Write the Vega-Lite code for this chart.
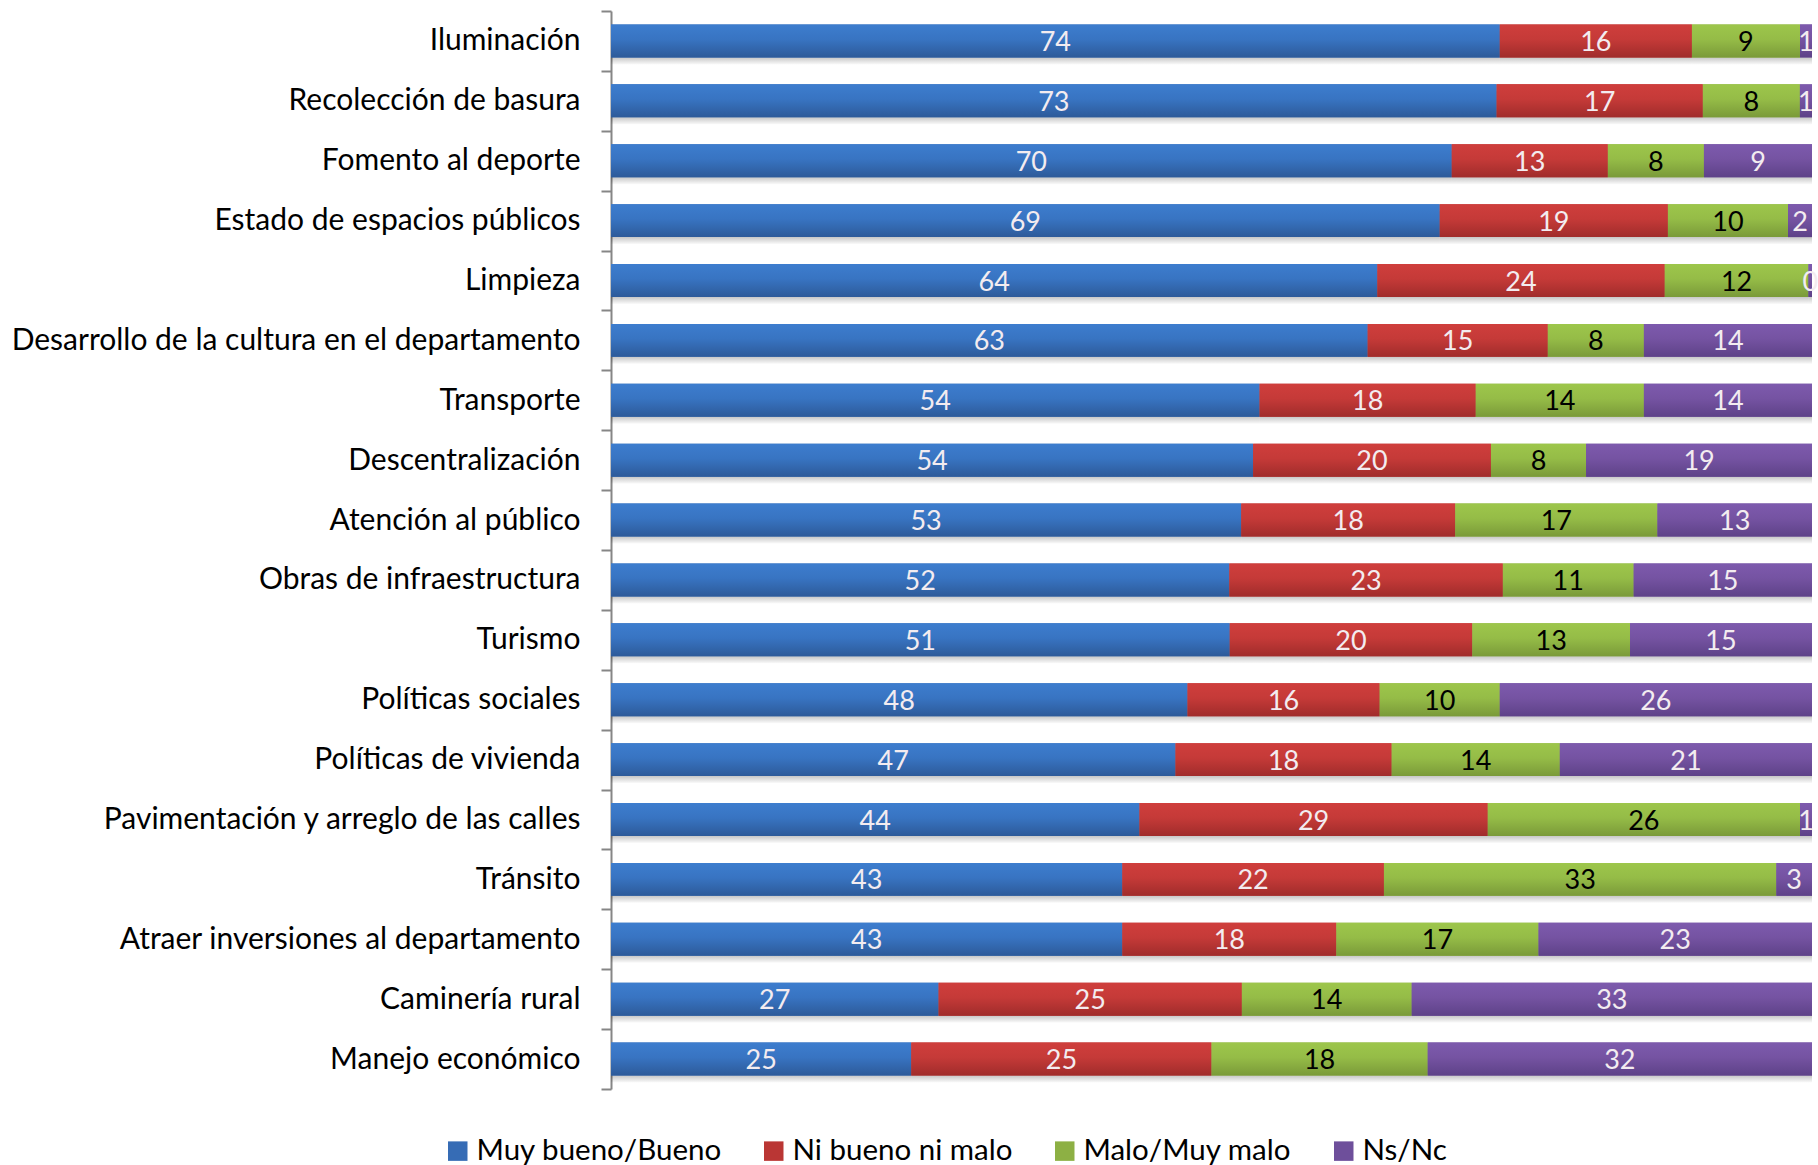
{
  "$schema": "https://vega.github.io/schema/vega-lite/v6.json",
  "width": 1201,
  "height": 1078,
  "autosize": "none",
  "padding": {"left": 611, "top": 11, "right": 6, "bottom": 76},
  "background": "white",
  "config": {"view": {"stroke": null}, "font": "Lato"},
  "data": {
    "values": [
      {"servicio": "Iluminación", "resp": "Muy bueno/Bueno", "pct": 74},
      {"servicio": "Iluminación", "resp": "Ni bueno ni malo", "pct": 16},
      {"servicio": "Iluminación", "resp": "Malo/Muy malo", "pct": 9},
      {"servicio": "Iluminación", "resp": "Ns/Nc", "pct": 1},
      {"servicio": "Recolección de basura", "resp": "Muy bueno/Bueno", "pct": 73},
      {"servicio": "Recolección de basura", "resp": "Ni bueno ni malo", "pct": 17},
      {"servicio": "Recolección de basura", "resp": "Malo/Muy malo", "pct": 8},
      {"servicio": "Recolección de basura", "resp": "Ns/Nc", "pct": 1},
      {"servicio": "Fomento al deporte", "resp": "Muy bueno/Bueno", "pct": 70},
      {"servicio": "Fomento al deporte", "resp": "Ni bueno ni malo", "pct": 13},
      {"servicio": "Fomento al deporte", "resp": "Malo/Muy malo", "pct": 8},
      {"servicio": "Fomento al deporte", "resp": "Ns/Nc", "pct": 9},
      {"servicio": "Estado de espacios públicos", "resp": "Muy bueno/Bueno", "pct": 69},
      {"servicio": "Estado de espacios públicos", "resp": "Ni bueno ni malo", "pct": 19},
      {"servicio": "Estado de espacios públicos", "resp": "Malo/Muy malo", "pct": 10},
      {"servicio": "Estado de espacios públicos", "resp": "Ns/Nc", "pct": 2},
      {"servicio": "Limpieza", "resp": "Muy bueno/Bueno", "pct": 64},
      {"servicio": "Limpieza", "resp": "Ni bueno ni malo", "pct": 24},
      {"servicio": "Limpieza", "resp": "Malo/Muy malo", "pct": 12},
      {"servicio": "Limpieza", "resp": "Ns/Nc", "pct": 0.3},
      {"servicio": "Desarrollo de la cultura en el departamento", "resp": "Muy bueno/Bueno", "pct": 63},
      {"servicio": "Desarrollo de la cultura en el departamento", "resp": "Ni bueno ni malo", "pct": 15},
      {"servicio": "Desarrollo de la cultura en el departamento", "resp": "Malo/Muy malo", "pct": 8},
      {"servicio": "Desarrollo de la cultura en el departamento", "resp": "Ns/Nc", "pct": 14},
      {"servicio": "Transporte", "resp": "Muy bueno/Bueno", "pct": 54},
      {"servicio": "Transporte", "resp": "Ni bueno ni malo", "pct": 18},
      {"servicio": "Transporte", "resp": "Malo/Muy malo", "pct": 14},
      {"servicio": "Transporte", "resp": "Ns/Nc", "pct": 14},
      {"servicio": "Descentralización", "resp": "Muy bueno/Bueno", "pct": 54},
      {"servicio": "Descentralización", "resp": "Ni bueno ni malo", "pct": 20},
      {"servicio": "Descentralización", "resp": "Malo/Muy malo", "pct": 8},
      {"servicio": "Descentralización", "resp": "Ns/Nc", "pct": 19},
      {"servicio": "Atención al público", "resp": "Muy bueno/Bueno", "pct": 53},
      {"servicio": "Atención al público", "resp": "Ni bueno ni malo", "pct": 18},
      {"servicio": "Atención al público", "resp": "Malo/Muy malo", "pct": 17},
      {"servicio": "Atención al público", "resp": "Ns/Nc", "pct": 13},
      {"servicio": "Obras de infraestructura", "resp": "Muy bueno/Bueno", "pct": 52},
      {"servicio": "Obras de infraestructura", "resp": "Ni bueno ni malo", "pct": 23},
      {"servicio": "Obras de infraestructura", "resp": "Malo/Muy malo", "pct": 11},
      {"servicio": "Obras de infraestructura", "resp": "Ns/Nc", "pct": 15},
      {"servicio": "Turismo", "resp": "Muy bueno/Bueno", "pct": 51},
      {"servicio": "Turismo", "resp": "Ni bueno ni malo", "pct": 20},
      {"servicio": "Turismo", "resp": "Malo/Muy malo", "pct": 13},
      {"servicio": "Turismo", "resp": "Ns/Nc", "pct": 15},
      {"servicio": "Políticas sociales", "resp": "Muy bueno/Bueno", "pct": 48},
      {"servicio": "Políticas sociales", "resp": "Ni bueno ni malo", "pct": 16},
      {"servicio": "Políticas sociales", "resp": "Malo/Muy malo", "pct": 10},
      {"servicio": "Políticas sociales", "resp": "Ns/Nc", "pct": 26},
      {"servicio": "Políticas de vivienda", "resp": "Muy bueno/Bueno", "pct": 47},
      {"servicio": "Políticas de vivienda", "resp": "Ni bueno ni malo", "pct": 18},
      {"servicio": "Políticas de vivienda", "resp": "Malo/Muy malo", "pct": 14},
      {"servicio": "Políticas de vivienda", "resp": "Ns/Nc", "pct": 21},
      {"servicio": "Pavimentación y arreglo de las calles", "resp": "Muy bueno/Bueno", "pct": 44},
      {"servicio": "Pavimentación y arreglo de las calles", "resp": "Ni bueno ni malo", "pct": 29},
      {"servicio": "Pavimentación y arreglo de las calles", "resp": "Malo/Muy malo", "pct": 26},
      {"servicio": "Pavimentación y arreglo de las calles", "resp": "Ns/Nc", "pct": 1},
      {"servicio": "Tránsito", "resp": "Muy bueno/Bueno", "pct": 43},
      {"servicio": "Tránsito", "resp": "Ni bueno ni malo", "pct": 22},
      {"servicio": "Tránsito", "resp": "Malo/Muy malo", "pct": 33},
      {"servicio": "Tránsito", "resp": "Ns/Nc", "pct": 3},
      {"servicio": "Atraer inversiones al departamento", "resp": "Muy bueno/Bueno", "pct": 43},
      {"servicio": "Atraer inversiones al departamento", "resp": "Ni bueno ni malo", "pct": 18},
      {"servicio": "Atraer inversiones al departamento", "resp": "Malo/Muy malo", "pct": 17},
      {"servicio": "Atraer inversiones al departamento", "resp": "Ns/Nc", "pct": 23},
      {"servicio": "Caminería rural", "resp": "Muy bueno/Bueno", "pct": 27},
      {"servicio": "Caminería rural", "resp": "Ni bueno ni malo", "pct": 25},
      {"servicio": "Caminería rural", "resp": "Malo/Muy malo", "pct": 14},
      {"servicio": "Caminería rural", "resp": "Ns/Nc", "pct": 33},
      {"servicio": "Manejo económico", "resp": "Muy bueno/Bueno", "pct": 25},
      {"servicio": "Manejo económico", "resp": "Ni bueno ni malo", "pct": 25},
      {"servicio": "Manejo económico", "resp": "Malo/Muy malo", "pct": 18},
      {"servicio": "Manejo económico", "resp": "Ns/Nc", "pct": 32}
    ]
  },
  "transform": [
    {"calculate": "indexof(['Muy bueno/Bueno','Ni bueno ni malo','Malo/Muy malo','Ns/Nc'], datum.resp)", "as": "orden"},
    {"stack": "pct", "groupby": ["servicio"], "sort": [{"field": "orden", "order": "ascending"}], "offset": "normalize", "as": ["x0", "x1"]}
  ],
  "encoding": {
    "y": {
      "field": "servicio",
      "type": "nominal",
      "sort": null,
      "title": null,
      "scale": {"paddingInner": 0, "paddingOuter": 0},
      "axis": {
        "domainColor": "#868686",
        "domainWidth": 2,
        "tickColor": "#868686",
        "tickWidth": 2,
        "tickSize": 10,
        "tickBand": "extent",
        "labelPadding": 21,
        "labelFontSize": 30,
        "labelColor": "#000000",
        "labelLimit": 800,
        "labelFont": "Lato"
      }
    }
  },
  "layer": [
    {
      "mark": {
        "type": "bar",
        "height": {"band": 0.55},
        "yOffset": 7,
        "color": {"gradient": "linear", "x1": 0, "y1": 0, "x2": 0, "y2": 1, "stops": [{"offset": 0.7, "color": "rgba(0,0,0,0.30)"}, {"offset": 1, "color": "rgba(0,0,0,0.02)"}]}
      },
      "encoding": {
        "x": {"field": "x0", "type": "quantitative", "scale": {"domain": [0, 1]}, "axis": null},
        "x2": {"field": "x1"}
      }
    },
    {
      "mark": {"type": "bar", "height": {"band": 0.55}},
      "encoding": {
        "x": {"field": "x0", "type": "quantitative"},
        "x2": {"field": "x1"},
        "color": {
          "field": "resp",
          "type": "nominal",
          "scale": {
            "domain": ["Muy bueno/Bueno", "Ni bueno ni malo", "Malo/Muy malo", "Ns/Nc"],
            "range": ["#366CB5", "#BA3634", "#8DB044", "#6E4F9B"]
          },
          "legend": {
            "title": null,
            "orient": "none",
            "direction": "horizontal",
            "legendX": -168,
            "legendY": 1125,
            "symbolType": "square",
            "symbolSize": 380,
            "symbolStrokeWidth": 0,
            "labelFontSize": 29.5,
            "labelFont": "Lato",
            "labelColor": "#000000",
            "labelLimit": 600,
            "columnPadding": 37,
            "labelOffset": 4
          }
        }
      }
    },
    {
      "transform": [{"filter": "datum.resp === 'Muy bueno/Bueno'"}],
      "mark": {
        "type": "bar",
        "height": {"band": 0.55},
        "color": {"gradient": "linear", "x1": 0, "y1": 0, "x2": 0, "y2": 1, "stops": [{"offset": 0, "color": "#3D7DCE"}, {"offset": 0.45, "color": "#3874C2"}, {"offset": 1, "color": "#2D5A99"}]}
      },
      "encoding": {"x": {"field": "x0", "type": "quantitative"}, "x2": {"field": "x1"}}
    },
    {
      "transform": [{"filter": "datum.resp === 'Ni bueno ni malo'"}],
      "mark": {
        "type": "bar",
        "height": {"band": 0.55},
        "color": {"gradient": "linear", "x1": 0, "y1": 0, "x2": 0, "y2": 1, "stops": [{"offset": 0, "color": "#CF3E3C"}, {"offset": 0.45, "color": "#C53A38"}, {"offset": 1, "color": "#A02C2B"}]}
      },
      "encoding": {"x": {"field": "x0", "type": "quantitative"}, "x2": {"field": "x1"}}
    },
    {
      "transform": [{"filter": "datum.resp === 'Malo/Muy malo'"}],
      "mark": {
        "type": "bar",
        "height": {"band": 0.55},
        "color": {"gradient": "linear", "x1": 0, "y1": 0, "x2": 0, "y2": 1, "stops": [{"offset": 0, "color": "#9DC64B"}, {"offset": 0.45, "color": "#95BC47"}, {"offset": 1, "color": "#7A9A39"}]}
      },
      "encoding": {"x": {"field": "x0", "type": "quantitative"}, "x2": {"field": "x1"}}
    },
    {
      "transform": [{"filter": "datum.resp === 'Ns/Nc'"}],
      "mark": {
        "type": "bar",
        "height": {"band": 0.55},
        "color": {"gradient": "linear", "x1": 0, "y1": 0, "x2": 0, "y2": 1, "stops": [{"offset": 0, "color": "#7D5AAD"}, {"offset": 0.45, "color": "#7553A2"}, {"offset": 1, "color": "#5E4288"}]}
      },
      "encoding": {"x": {"field": "x0", "type": "quantitative"}, "x2": {"field": "x1"}}
    },
    {
      "mark": {"type": "text", "fontSize": 27, "font": "Lato", "baseline": "middle", "align": "center", "dy": 2},
      "encoding": {
        "x": {"field": "pct", "type": "quantitative", "stack": "normalize", "bandPosition": 0.5},
        "order": {"field": "orden", "type": "quantitative"},
        "detail": {"field": "resp", "type": "nominal"},
        "text": {"field": "pct", "type": "quantitative", "format": ".0f"},
        "color": {
          "condition": {"test": "datum.resp === 'Malo/Muy malo'", "value": "#000000"},
          "value": "#F3ECF0"
        }
      }
    }
  ]
}
